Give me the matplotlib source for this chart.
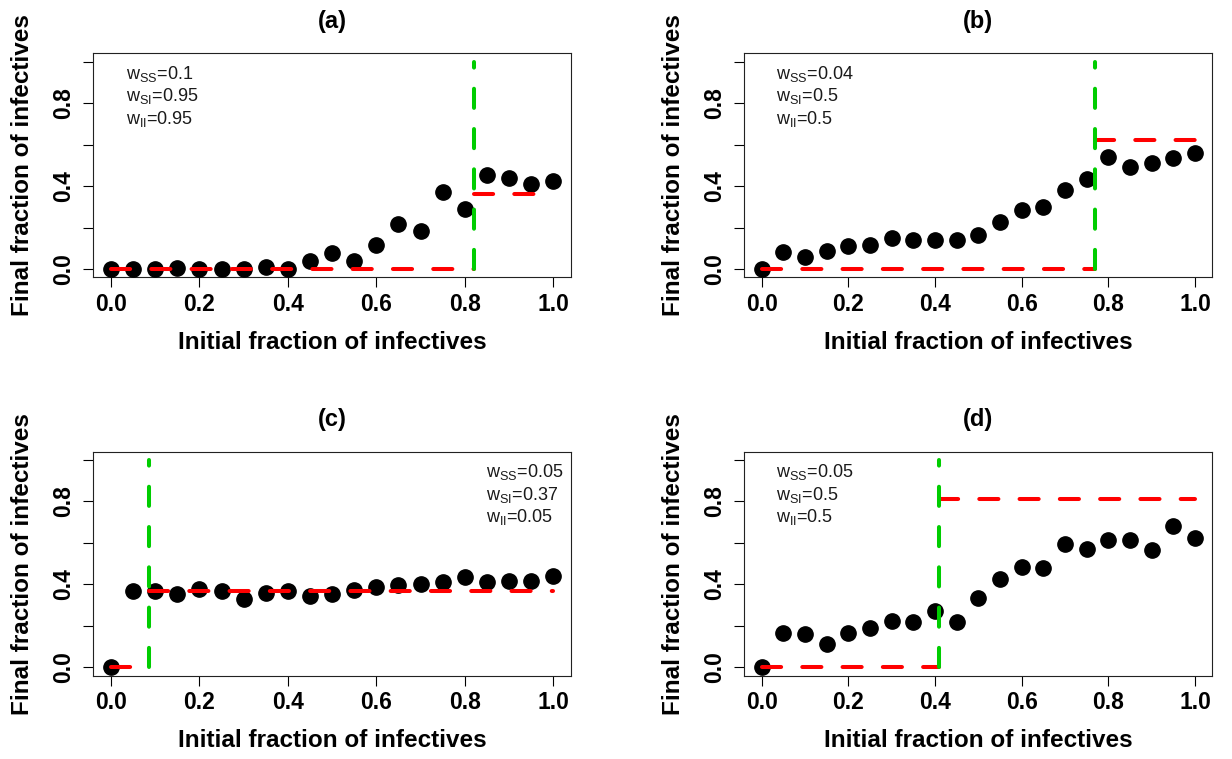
import matplotlib
matplotlib.use('Agg')
import matplotlib.pyplot as plt

plt.rcParams['font.family'] = ['Liberation Sans', 'DejaVu Sans']
plt.rcParams['mathtext.fontset'] = 'custom'
plt.rcParams['mathtext.rm'] = 'Liberation Sans'

# initial fraction of infectives (x values shared by all panels)
x_init = [0.0, 0.05, 0.1, 0.15, 0.2, 0.25, 0.3, 0.35, 0.4, 0.45, 0.5,
          0.55, 0.6, 0.65, 0.7, 0.75, 0.8, 0.85, 0.9, 0.95, 1.0]

# final fraction of infectives (simulation points)
final_a = [0.0, 0.0, 0.0, 0.006, 0.0, 0.0, 0.0, 0.011, 0.0, 0.037, 0.076,
           0.037, 0.116, 0.217, 0.183, 0.370, 0.289, 0.452, 0.440, 0.412, 0.423]
final_b = [0.0, 0.082, 0.059, 0.085, 0.111, 0.116, 0.150, 0.138, 0.140, 0.138, 0.164,
           0.225, 0.285, 0.301, 0.381, 0.436, 0.540, 0.494, 0.510, 0.535, 0.558]
final_c = [0.0, 0.367, 0.367, 0.352, 0.378, 0.367, 0.331, 0.358, 0.370, 0.342, 0.354,
           0.375, 0.386, 0.397, 0.404, 0.412, 0.437, 0.412, 0.418, 0.418, 0.440]
final_d = [0.0, 0.166, 0.163, 0.113, 0.166, 0.188, 0.225, 0.219, 0.271, 0.219, 0.335,
           0.428, 0.483, 0.480, 0.594, 0.570, 0.614, 0.614, 0.567, 0.680, 0.625]

# theoretical threshold (green) and upper level (red)
thresholds = [0.82, 0.77, 0.085, 0.41]
upper_levels = [0.36, 0.622, 0.367, 0.812]

panel_titles = ['(a)', '(b)', '(c)', '(d)']
w_ss = ['0.1', '0.04', '0.05', '0.05']
w_si = ['0.95', '0.5', '0.37', '0.5']
w_ii = ['0.95', '0.5', '0.05', '0.5']

x_ticks = [0.0, 0.2, 0.4, 0.6, 0.8, 1.0]
y_ticks = [0.0, 0.2, 0.4, 0.6, 0.8, 1.0]
y_tick_labels = ['0.0', '', '0.4', '', '0.8', '']

W, H = 1232, 759
fig = plt.figure(figsize=(W / 100, H / 100), dpi=100)

# axes boxes in pixels: left, top, width, height
boxes = [(93.3, 53.3, 477.7, 224), (744.3, 53.3, 468, 224),
         (93.3, 451.7, 477.7, 224), (744.3, 451.7, 468, 224)]
text_x = [0.035, 0.034, 0.848, 0.034]

finals = [final_a, final_b, final_c, final_d]
dash = (0, (4.75, 5.25))

for i, (l, t, w, h) in enumerate(boxes):
    ax = fig.add_axes([l / W, (H - t - h) / H, w / W, h / H])
    ax.set_xlim(-0.04, 1.04)
    ax.set_ylim(-0.04, 1.04)

    ax.plot(x_init, finals[i], 'o', color='black', markersize=11, zorder=3)

    thr = thresholds[i]
    lvl = upper_levels[i]
    ax.plot([0, thr], [0, 0], color='red', lw=2.9, linestyle=dash,
            dash_capstyle='round', zorder=4)
    ax.plot([thr, 1.0], [lvl, lvl], color='red', lw=2.9, linestyle=dash,
            dash_capstyle='round', zorder=4)
    ax.plot([thr, thr], [0, 1.0], color='#00CD00', lw=2.9, linestyle=dash,
            dash_capstyle='round', zorder=5)

    ax.set_xticks(x_ticks)
    ax.set_xticklabels(['%.1f' % v for v in x_ticks])
    ax.set_yticks(y_ticks)
    ax.set_yticklabels(y_tick_labels, rotation=90, va='center')
    ax.tick_params(length=7.2, width=0.8, labelsize=16.5, direction='out')
    ax.tick_params(axis='x', pad=4)
    ax.tick_params(axis='y', pad=6)
    for lab in ax.get_xticklabels() + ax.get_yticklabels():
        lab.set_fontweight('bold')
    for sp in ax.spines.values():
        sp.set_linewidth(0.8)
        sp.set_color('#222222')

    ax.set_xlabel('Initial fraction of infectives', fontsize=17.5, fontweight='bold')
    ax.set_ylabel('Final fraction of infectives', fontsize=17.5, fontweight='bold')
    ax.xaxis.set_label_coords(0.5, -65 / h)
    ax.xaxis.label.set_va('center')
    ax.yaxis.set_label_coords(-71 / w, 0.5)
    ax.yaxis.label.set_va('center')

    ax.text(0.5, 1 + 32 / h, panel_titles[i], transform=ax.transAxes,
            ha='center', va='center', fontsize=17, fontweight='bold')

    lines = [r'w$_{\mathrm{SS}}$=' + w_ss[i],
             r'w$_{\mathrm{SI}}$=' + w_si[i],
             r'w$_{\mathrm{II}}$=' + w_ii[i]]
    for k, txt in enumerate(lines):
        ax.text(text_x[i], [0.94, 0.832, 0.725][k], txt, fontsize=13,
                ha='left', va='center', color='#1a1a1a')

fig.savefig('out.png', dpi=100)
